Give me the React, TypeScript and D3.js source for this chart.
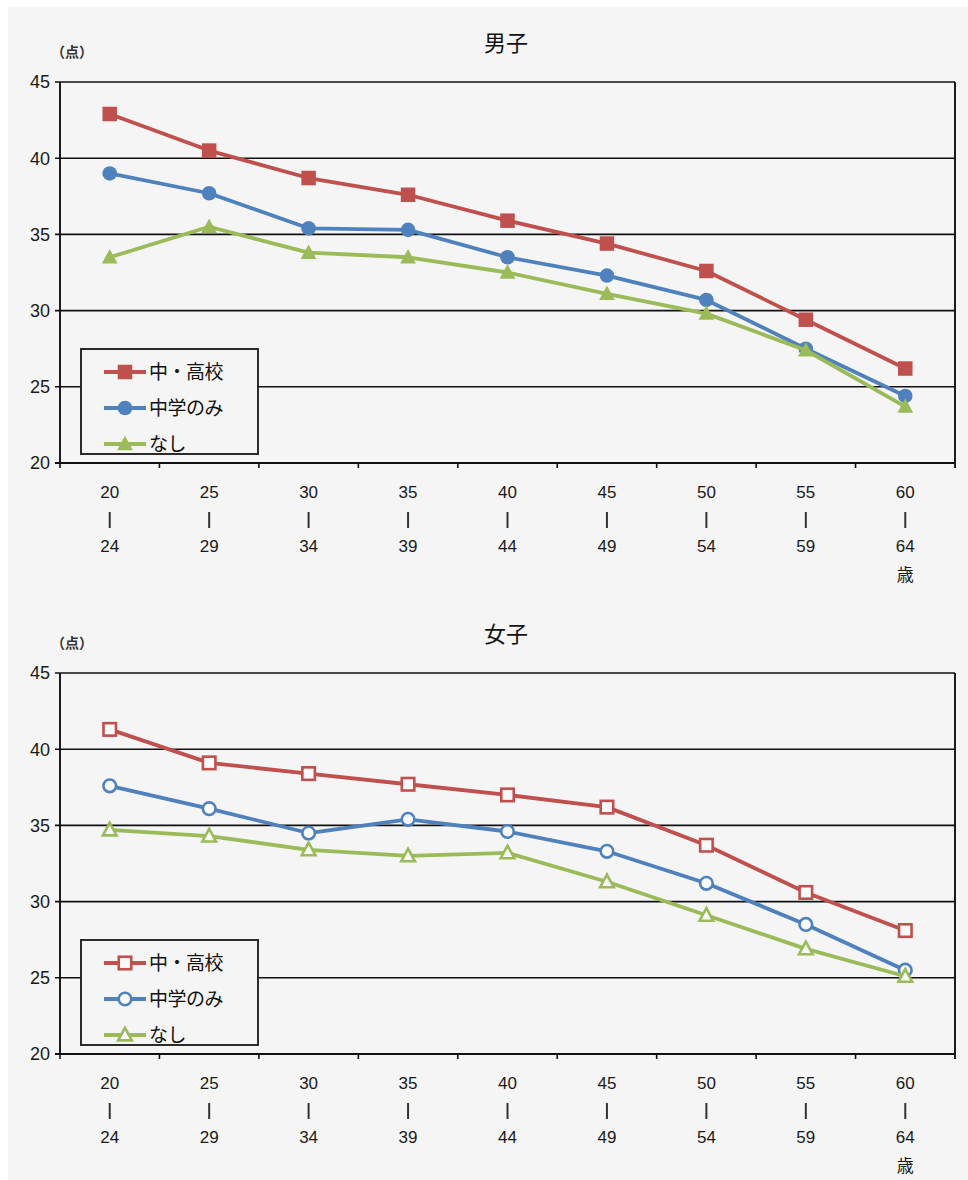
import React from "react";
import * as d3 from "d3";

const ageStart = ["20", "25", "30", "35", "40", "45", "50", "55", "60"];
const ageEnd = ["24", "29", "34", "39", "44", "49", "54", "59", "64"];
const seriesNames = ["中・高校", "中学のみ", "なし"];
const seriesColors = ["#c0504d", "#4f81bd", "#9bbb59"];
const yTicks = [20, 25, 30, 35, 40, 45];

const boysHigh = [42.9, 40.5, 38.7, 37.6, 35.9, 34.4, 32.6, 29.4, 26.2];
const boysMiddle = [39.0, 37.7, 35.4, 35.3, 33.5, 32.3, 30.7, 27.5, 24.4];
const boysNone = [33.5, 35.5, 33.8, 33.5, 32.5, 31.1, 29.8, 27.4, 23.7];

const girlsHigh = [41.3, 39.1, 38.4, 37.7, 37.0, 36.2, 33.7, 30.6, 28.1];
const girlsMiddle = [37.6, 36.1, 34.5, 35.4, 34.6, 33.3, 31.2, 28.5, 25.5];
const girlsNone = [34.7, 34.3, 33.4, 33.0, 33.2, 31.3, 29.1, 26.9, 25.1];

const W = 968;
const H = 1180;
const BG = "#f5f5f5";
const NUM_FONT = "'Liberation Sans', Arial, sans-serif";
const JP_FONT = "'Noto Sans CJK JP', sans-serif";

type MarkerKind = "square" | "circle" | "triangle";
const markerKinds: MarkerKind[] = ["square", "circle", "triangle"];

function Marker({ kind, x, y, color, hollow }: { kind: MarkerKind; x: number; y: number; color: string; hollow: boolean }) {
  const fill = hollow ? "#fafafa" : color;
  const sw = hollow ? 2.6 : 0;
  if (kind === "square") {
    const s = hollow ? 12.5 : 14.5;
    return <rect x={x - s / 2} y={y - s / 2} width={s} height={s} fill={fill} stroke={color} strokeWidth={sw} />;
  }
  if (kind === "circle") {
    return <circle cx={x} cy={y} r={hollow ? 6.3 : 7.3} fill={fill} stroke={color} strokeWidth={sw} />;
  }
  const r = hollow ? 7.2 : 8.3;
  const pts = [
    [x, y - r],
    [x + r * 0.95, y + r * 0.75],
    [x - r * 0.95, y + r * 0.75],
  ];
  return <polygon points={pts.map((p) => p.join(",")).join(" ")} fill={fill} stroke={color} strokeWidth={sw} strokeLinejoin="miter" />;
}

function Panel({
  title,
  top,
  data,
  hollow,
}: {
  title: string;
  top: number;
  data: number[][];
  hollow: boolean;
}) {
  const left = 60;
  const right = 955;
  const plotTop = top + 75;
  const plotBottom = top + 456;

  const x = d3.scaleBand<string>().domain(ageStart).range([left, right]);
  const y = d3.scaleLinear().domain([20, 45]).range([plotBottom, plotTop]);
  const cx = (i: number) => (x(ageStart[i]) as number) + x.bandwidth() / 2;

  const line = d3
    .line<number>()
    .x((_, i) => cx(i))
    .y((v) => y(v));

  const legX = 81;
  const legY = plotTop + 267;

  return (
    <g>
      <text x={506} y={top + 44} textAnchor="middle" fontFamily={JP_FONT} fontSize={22} fill="#111">
        {title}
      </text>
      <text x={72} y={top + 50} textAnchor="middle" fontFamily={JP_FONT} fontSize={14} fontWeight={700} fill="#333">
        （点）
      </text>

      {/* horizontal gridlines */}
      {yTicks.map((t) => (
        <g key={t}>
          <line x1={left - 5} x2={right} y1={y(t)} y2={y(t)} stroke="#111" strokeWidth={t === 20 ? 1.8 : 1.6} />
          <text x={50} y={y(t)} dy="0.35em" textAnchor="end" fontFamily={NUM_FONT} fontSize={18} fill="#1a1a1a">
            {t}
          </text>
        </g>
      ))}
      <line x1={left} x2={left} y1={plotTop} y2={plotBottom} stroke="#111" strokeWidth={1.9} />
      <line x1={right} x2={right} y1={plotTop} y2={plotBottom + 5} stroke="#111" strokeWidth={1.9} />

      {/* category boundary ticks */}
      {ageStart.map((a) => (
        <line
          key={a}
          x1={x(a) as number}
          x2={x(a) as number}
          y1={plotBottom}
          y2={plotBottom + 5}
          stroke="#111"
          strokeWidth={1.6}
        />
      ))}

      {/* category labels */}
      {ageStart.map((a, i) => (
        <g key={a} fontFamily={NUM_FONT} fontSize={17} fill="#1a1a1a" textAnchor="middle">
          <text x={cx(i)} y={plotBottom + 35}>{a}</text>
          <line x1={cx(i)} x2={cx(i)} y1={plotBottom + 49} y2={plotBottom + 65} stroke="#333" strokeWidth={2} />
          <text x={cx(i)} y={plotBottom + 89}>{ageEnd[i]}</text>
          {i === ageStart.length - 1 && (
            <text x={cx(i)} y={plotBottom + 118} fontFamily={JP_FONT} fontSize={17}>
              歳
            </text>
          )}
        </g>
      ))}

      {/* series */}
      {data.map((vals, s) => (
        <g key={s}>
          <path d={line(vals) || ""} fill="none" stroke={seriesColors[s]} strokeWidth={3.8} strokeLinejoin="round" />
          {vals.map((v, i) => (
            <Marker key={i} kind={markerKinds[s]} x={cx(i)} y={y(v)} color={seriesColors[s]} hollow={hollow} />
          ))}
        </g>
      ))}

      {/* legend */}
      <rect x={legX} y={legY} width={177} height={105} fill={BG} stroke="#222" strokeWidth={1.9} />
      {seriesNames.map((n, s) => {
        const ly = legY + 23 + s * 36;
        return (
          <g key={n}>
            <line x1={legX + 23} x2={legX + 65} y1={ly} y2={ly} stroke={seriesColors[s]} strokeWidth={3.8} />
            <Marker kind={markerKinds[s]} x={legX + 44} y={ly} color={seriesColors[s]} hollow={hollow} />
            <text x={legX + 68} y={ly} dy="0.35em" fontFamily={JP_FONT} fontSize={19} fill="#111" letterSpacing={-0.5}>
              {n}
            </text>
          </g>
        );
      })}
    </g>
  );
}

export default function App() {
  return (
    <svg
      width={W}
      height={H}
      viewBox={`0 0 ${W} ${H}`}
      style={{ position: "absolute", left: 0, top: 0, background: "#ffffff" }}
    >
      <rect x={8} y={7} width={W - 8} height={H - 7} fill={BG} />
      <Panel title="男子" top={7} data={[boysHigh, boysMiddle, boysNone]} hollow={false} />
      <Panel title="女子" top={598} data={[girlsHigh, girlsMiddle, girlsNone]} hollow={true} />
    </svg>
  );
}
